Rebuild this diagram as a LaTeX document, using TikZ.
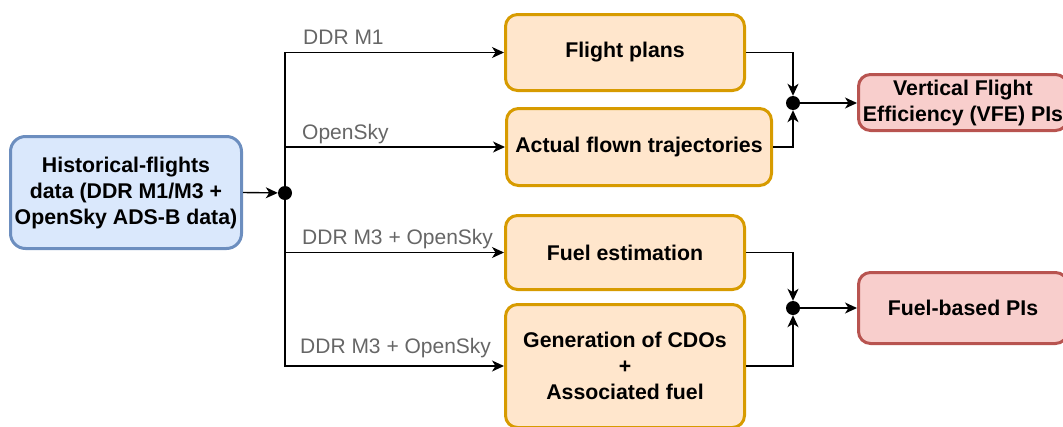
\documentclass[tikz,border=0pt]{standalone}
\usepackage{fontspec}
\setmainfont{Liberation Sans}
\usetikzlibrary{arrows.meta}
\definecolor{bluefill}{HTML}{DAE8FC}
\definecolor{bluedraw}{HTML}{6C8EBF}
\definecolor{orfill}{HTML}{FFE6CC}
\definecolor{ordraw}{HTML}{D79B00}
\definecolor{redfill}{HTML}{F8CECC}
\definecolor{reddraw}{HTML}{B85450}
\definecolor{lblgray}{HTML}{666666}
\begin{document}
\begin{tikzpicture}[x=1pt,y=-1pt,
  box/.style={rounded corners=12pt, line width=3pt, align=center, inner sep=0pt,
    font=\fontsize{21.3}{26}\selectfont\bfseries},
  bluebox/.style={box, draw=bluedraw, fill=bluefill, rounded corners=15pt},
  orbox/.style={box, draw=ordraw, fill=orfill},
  redbox/.style={box, draw=reddraw, fill=redfill},
  jdot/.style={circle, fill=black, inner sep=0pt, minimum size=14pt},
  conn/.style={line width=1.4pt, -{Stealth[length=12pt,width=11pt,inset=3.5pt]}},
  lbl/.style={text=lblgray, font=\fontsize{21}{26}\selectfont, inner sep=0pt, anchor=base west}]
\useasboundingbox (0,0) rectangle (1063,426);
\clip (0,0) rectangle (1063,426);

\node[bluebox, minimum width=231pt, minimum height=112pt] (hist) at (126,192.5)
  {Historical-flights\\data (DDR M1/M3 +\\OpenSky ADS-B data)};

\node[orbox, minimum width=239pt, minimum height=76pt] (fp) at (625,52.5) {Flight plans};
\node[orbox, minimum width=265pt, minimum height=77pt] (act) at (639,147) {Actual flown trajectories};
\node[orbox, minimum width=239pt, minimum height=74pt] (fe) at (625,252.5) {Fuel estimation};
\node[orbox, minimum width=239pt, minimum height=123pt] (gen) at (625,366)
  {Generation of CDOs\\+\\Associated fuel};

\node[redbox, minimum width=209pt, minimum height=56pt] (vfe) at (963,102.5)
  {Vertical Flight\\Efficiency (VFE) PIs};
\node[redbox, minimum width=209pt, minimum height=71pt] (fpi) at (963,308) {Fuel-based PIs};

\node[jdot] (j1) at (285,193) {};
\node[jdot] (j2) at (793,103) {};
\node[jdot] (j3) at (793,308) {};

\draw[conn] (hist.east) -- (j1);
\draw[conn] (j1) |- (fp.west);
\draw[conn] (j1) |- (act.west);
\draw[conn] (j1) |- (fe.west);
\draw[conn] (j1) |- (gen.west);

\node[lbl] (l1) at (303,44) {DDR M1};
\node[lbl] (l2) at (302,139) {OpenSky};
\node[lbl] (l3) at (302,244) {DDR M3 + OpenSky};
\node[lbl] (l4) at (300,353) {DDR M3 + OpenSky};

\draw[conn] (fp.east) -| (j2);
\draw[conn] (act.east) -| (j2);
\draw[conn] (j2) -- (j2 -| vfe.west);

\draw[conn] (fe.east) -| (j3);
\draw[conn] (gen.east) -| (j3);
\draw[conn] (j3) -- (j3 -| fpi.west);
\end{tikzpicture}
\end{document}
